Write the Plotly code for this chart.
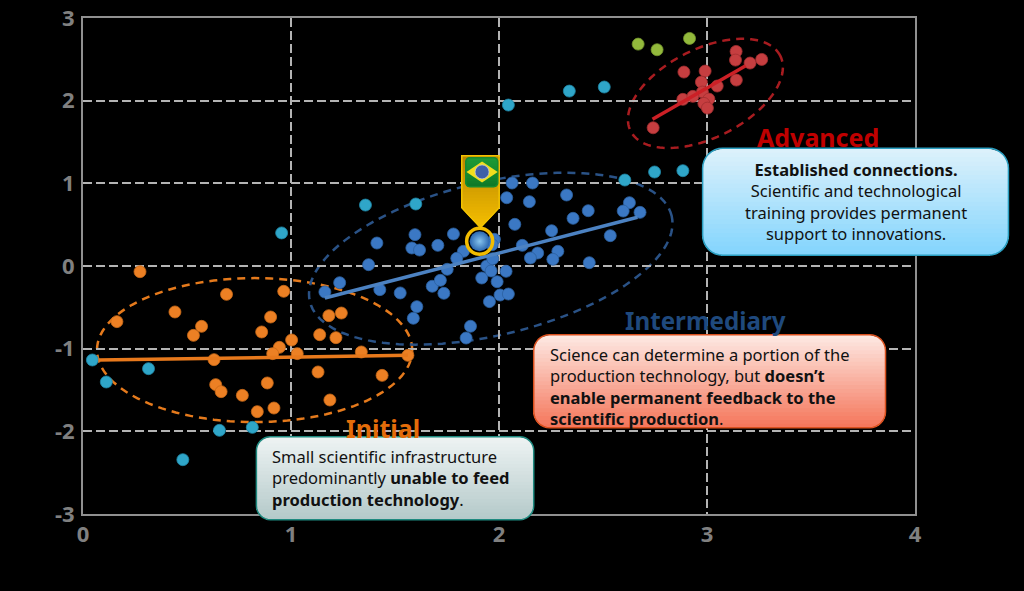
import math
import plotly.graph_objects as go

# ---------- data ----------
tick_x = [0, 1, 2, 3, 4]
tick_x_text = ["0", "1", "2", "3", "4"]
tick_y = [-3, -2, -1, 0, 1, 2, 3]
tick_y_text = ["-3", "-2", "-1", "0", "1", "2", "3"]

initial_x = [.274,.690,.965,.442,.163,.570,.531,.902,.859,1.003,.944,.912,1.030,.630,1.138,1.216,1.182,1.242,1.338,1.562,1.130,1.438,.638,.664,.886,.766,.838,.918,1.187]
initial_y = [-.069,-.343,-.306,-.556,-.673,-.730,-.839,-.617,-.798,-.895,-.984,-1.060,-1.060,-1.133,-.831,-.867,-.601,-.569,-1.040,-1.081,-1.282,-1.323,-1.435,-1.520,-1.415,-1.565,-1.762,-1.718,-1.621]

inter_x = [2.063,2.161,2.037,2.146,2.325,2.429,2.356,2.253,2.076,2.627,2.597,2.678,2.535,1.596,1.413,1.781,1.581,1.618,1.706,1.829,1.797,1.751,1.373,1.234,1.163,1.427,1.525,1.679,1.718,1.735,1.605,1.588,1.863,1.842,1.954,2.005,2.045,1.991,1.917,1.941,1.962,2.034,1.970,1.978,1.967,2.112,2.186,2.151,2.283,2.259,2.434]
inter_y = [1.004,1.004,.826,.778,.859,.669,.577,.427,.504,.766,.665,.649,.367,.379,.278,.387,.218,.193,.250,.178,.093,-.040,.016,-.202,-.314,-.286,-.326,-.245,-.173,-.330,-.492,-.632,-.729,-.871,-.431,-.351,-.339,-.190,-.145,0,-.060,-.064,.088,.323,.258,.250,.157,.097,.178,.081,.040]

adv_x = [3.140,3.137,3.207,3.263,2.889,2.991,2.973,3.141,3.049,2.978,2.884,2.932,3.009,2.985,3.002,2.741]
adv_y = [2.596,2.491,2.455,2.499,2.346,2.358,2.225,2.249,2.177,2.104,2.016,2.052,2.019,1.967,1.910,1.672]

other_x = [.045,.112,.315,.656,.814,.480,.955,1.358,1.600,2.045,2.338,2.506,2.605,2.748,2.884]
other_y = [-1.137,-1.403,-1.242,-1.988,-1.952,-2.343,.400,.737,.750,1.947,2.116,2.165,1.040,1.137,1.153]

top_x = [2.669,2.760,2.916]
top_y = [2.684,2.616,2.753]

brazil_x = [1.907]
brazil_y = [.299]

fit_initial_x = [.074,1.562]
fit_initial_y = [-1.137,-1.081]
fit_inter_x = [1.163,2.666]
fit_inter_y = [-.387,.589]
fit_adv_x = [2.738,3.186]
fit_adv_y = [1.774,2.422]

# ---------- frame ----------
W, H = 1024, 591
L, R, T, B = 83, 915.5, 18.3, 514.3
def px(v): return (v - L) / (R - L)
def py(v): return (B - v) / (B - T)

ORANGE, BLUE, TEAL, GREEN, RED = "#EC8024", "#3B78C4", "#2FA6C9", "#93B93C", "#C63E40"

def ellipse_path(cx, cy, a, b, deg, n=120):
    t = math.radians(deg)
    pts = []
    for i in range(n):
        u = 2 * math.pi * i / n
        x = cx + a * math.cos(u) * math.cos(t) - b * math.sin(u) * math.sin(t)
        y = cy - a * math.cos(u) * math.sin(t) - b * math.sin(u) * math.cos(t)
        pts.append((px(x), py(y)))
    return "M" + " L".join(f"{x:.5f},{y:.5f}" for x, y in pts) + " Z"

def poly(pts):
    return "M" + " L".join(f"{px(x):.5f},{py(y):.5f}" for x, y in pts) + " Z"

def lerp_hex(c0, c1, f):
    a = [int(c0[i:i+2], 16) for i in (1, 3, 5)]
    b = [int(c1[i:i+2], 16) for i in (1, 3, 5)]
    return "#" + "".join(f"{round(a[i]+(b[i]-a[i])*f):02x}" for i in range(3))

def arc(cx, cy, r, start):
    return [(cx + r * math.cos(start + k / 8 * math.pi / 2),
             cy + r * math.sin(start + k / 8 * math.pi / 2)) for k in range(9)]

def rr_inset(y, y0, y1, r):
    d = y0 + r - y if y < y0 + r else (y - (y1 - r) if y > y1 - r else 0)
    return r - math.sqrt(max(r * r - d * d, 0)) if d else 0.0

def gradient_box(x0, y0, x1, y1, r, top, bottom, border, bands=24):
    # painter's approach: every band reaches to the bottom of the box, so no seams show
    out = []
    bottom_arc = arc(x1 - r, y1 - r, r, 0) + arc(x0 + r, y1 - r, r, math.pi / 2)
    for i in range(bands):
        a = y0 + (y1 - y0) * i / bands
        pts = []
        if a < y0 + r:
            steps = [a + (y0 + r - a) * k / 6 for k in range(7)]
            pts += [(x0 + rr_inset(v, y0, y1, r), v) for v in steps[::-1]]
            pts += [(x1 - rr_inset(v, y0, y1, r), v) for v in steps]
        elif a > y1 - r:
            ins = rr_inset(a, y0, y1, r)
            pts += [(x0 + ins, a), (x1 - ins, a)]
            steps = [a + (y1 - a) * k / 6 for k in range(1, 7)]
            pts += [(x1 - rr_inset(v, y0, y1, r), v) for v in steps]
            pts += [(x0 + rr_inset(v, y0, y1, r), v) for v in steps[::-1]]
            out.append(dict(type="path", xref="paper", yref="paper", layer="above", path=poly(pts),
                            fillcolor=lerp_hex(top, bottom, i / (bands - 1)), line=dict(width=0)))
            continue
        else:
            pts += [(x0, a), (x1, a)]
        pts += bottom_arc
        out.append(dict(type="path", xref="paper", yref="paper", layer="above", path=poly(pts),
                        fillcolor=lerp_hex(top, bottom, i / (bands - 1)), line=dict(width=0)))
    outline = (arc(x0 + r, y0 + r, r, math.pi) + arc(x1 - r, y0 + r, r, 1.5 * math.pi)
               + arc(x1 - r, y1 - r, r, 0) + arc(x0 + r, y1 - r, r, .5 * math.pi))
    out.append(dict(type="path", xref="paper", yref="paper", layer="above",
                    path=poly(outline), line=dict(color=border, width=1.5)))
    return out

shapes = []
for path, col in [(ellipse_path(254.7, 350.4, 157.7, 72, 0), "#E57A1C"),
                  (ellipse_path(491, 259, 186, 76.6, 13.3), "#2A5286"),
                  (ellipse_path(705.8, 93.7, 83.8, 44.4, 26.6), "#A81C20")]:
    shapes.append(dict(type="path", xref="paper", yref="paper", layer="below",
                       path=path, line=dict(color=col, width=2.5, dash="8px,6px")))

shapes += gradient_box(703, 148.5, 1009, 255.5, 20, "#DCF1FB", "#84D5FD", "#2A9EC0")
shapes += gradient_box(534, 335, 886, 428, 16, "#FDE8E2", "#F5775C", "#D9501E")
shapes += gradient_box(256.5, 437, 534, 520, 14, "#EDF3F3", "#B5CACA", "#1F8A80")

# pin: painter's bands from top to tip
TIP, SH, CX = 228, 208, 480.7
n = 24
for i in range(n):
    a = 156 + (TIP - 156) * i / n
    hw = 18.7 if a <= SH else 18.7 * (TIP - a) / (TIP - SH)
    pts = [(CX - hw, a), (CX + hw, a)]
    if a <= SH:
        pts += [(CX + 18.7, SH)]
    pts += [(CX, TIP)]
    if a <= SH:
        pts += [(CX - 18.7, SH)]
    shapes.append(dict(type="path", xref="paper", yref="paper", layer="above", path=poly(pts),
                       fillcolor=lerp_hex("#B98600", "#F4BE00", i / (n - 1)), line=dict(width=0)))
shapes.append(dict(type="path", xref="paper", yref="paper", layer="above",
                   path=poly([(462, 156), (499.4, 156), (499.4, 208), (480.7, 228), (462, 208)]),
                   line=dict(color="#F2C200", width=1.5)))
shapes += gradient_box(466, 158, 498, 187, 4, "#1E9A36", "#0F7A28", "#188A30", bands=10)
shapes.append(dict(type="path", xref="paper", yref="paper", layer="above",
                   path=poly([(466.7, 172.2), (482.3, 161.7), (498, 172.2), (482.3, 182.7)]),
                   fillcolor="#F2DE1E", line=dict(width=0)))
shapes.append(dict(type="circle", xref="paper", yref="paper", layer="above",
                   x0=px(475.3), x1=px(489.3), y0=py(179.2), y1=py(165.2),
                   fillcolor="#3F5FA8", line=dict(color="#C8D0E0", width=.7)))

# ---------- figure ----------
def dots(x, y, color, edge, name):
    return go.Scatter(x=x, y=y, mode="markers", name=name, hoverinfo="skip",
                      marker=dict(size=12, color=color, line=dict(color=edge, width=.8)))

def fit(x, y, color, name):
    return go.Scatter(x=x, y=y, mode="lines", name=name, hoverinfo="skip",
                      line=dict(color=color, width=3.5))

fig = go.Figure([
    dots(other_x, other_y, TEAL, "#1F86A6", "Other"),
    dots(top_x, top_y, GREEN, "#76982E", "Top"),
    dots(initial_x, initial_y, ORANGE, "#C96A18", "Initial"),
    dots(inter_x, inter_y, BLUE, "#2C619F", "Intermediary"),
    dots(adv_x, adv_y, RED, "#A22E30", "Advanced"),
    fit(fit_initial_x, fit_initial_y, "#E8791C", "Initial fit"),
    fit(fit_inter_x, fit_inter_y, "#4C82C2", "Intermediary fit"),
    fit(fit_adv_x, fit_adv_y, "#CC2026", "Advanced fit"),
    go.Scatter(x=brazil_x, y=brazil_y, mode="markers", name="Brazil", hoverinfo="skip",
               marker=dict(size=20, color="#2A66AE",
                           gradient=dict(type="radial", color="#86C4EE"),
                           line=dict(width=0))),
    go.Scatter(x=brazil_x, y=brazil_y, mode="markers", name="Brazil ring", hoverinfo="skip",
               marker=dict(size=26, symbol="circle-open",
                           line=dict(color="#F2BC00", width=3.5), color="#F2BC00")),
])

TXT = "Noto Sans"
def note(x, y, text, size, color, align="center", anchor="center"):
    return dict(x=px(x), y=py(y), xref="paper", yref="paper", text=text, showarrow=False,
                xanchor=anchor, yanchor="middle", align=align, borderpad=0, borderwidth=0,
                font=dict(family=TXT, size=size, color=color))

annotations = [
    note(818, 137, "<b>Advanced</b>", 25, "#C00000"),
    note(705.5, 321, "<b>Intermediary</b>", 24.2, "#1F497D"),
    note(383, 428, "<b>Initial</b>", 25, "#E36C0A"),
    note(856, 201.5, "<b>Established connections.</b><br>Scientific and technological<br>training provides permanent<br>support to innovations.", 16.5, "#111111"),
    note(550, 387, "Science can determine a portion of the<br>production technology, but <b>doesn\u2019t</b><br><b>enable permanent feedback to the</b><br><b>scientific production</b>.", 16.5, "#111111", "left", "left"),
    note(272, 478, "Small scientific infrastructure<br>predominantly <b>unable to feed</b><br><b>production technology</b>.", 16.5, "#111111", "left", "left"),
]

axis_common = dict(showline=True, mirror=True, linecolor="#909090", linewidth=2,
                   showgrid=True, gridcolor="#B4B4B4", gridwidth=1.5, griddash="9px,4px",
                   zeroline=False, ticks="", automargin=False,
                   tickfont=dict(family="Open Sans", size=22, color="#808080", weight=700))

fig.update_layout(
    width=W, height=H, autosize=False,
    margin=dict(l=L, r=W-R, t=T, b=H-B, pad=0),
    paper_bgcolor="#000000", plot_bgcolor="#000000",
    showlegend=False, shapes=shapes, annotations=annotations,
    xaxis=dict(range=[0, 4], tickvals=tick_x, ticktext=tick_x_text, **axis_common),
    yaxis=dict(range=[-3, 3], tickvals=tick_y, ticktext=tick_y_text, ticklabelstandoff=2, **axis_common),
)

fig.write_html("out.html", config=dict(displayModeBar=False),
               post_script="document.body.style.margin='0';document.body.style.background='#000';")
